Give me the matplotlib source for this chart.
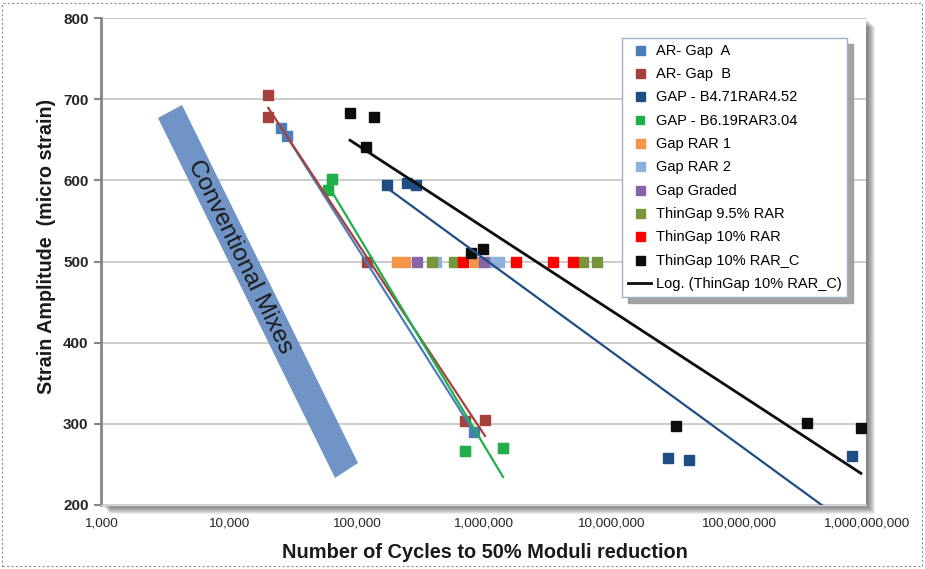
import numpy as np
import matplotlib
matplotlib.use('Agg')
import matplotlib.pyplot as plt
from matplotlib.patches import Polygon, Rectangle
from matplotlib.ticker import FuncFormatter, NullLocator

plt.rcParams['font.family'] = ['Liberation Sans', 'DejaVu Sans']

# cycles to 50% moduli reduction (n) and strain amplitude (e) for each mix
ar_gap_a_n = [25800, 28800, 841000]
ar_gap_a_e = [664, 655, 290]
ar_gap_b_n = [20500, 20500, 122000, 716000, 1028000]
ar_gap_b_e = [705, 678, 500, 303, 305]
gap_b471_n = [175000, 251000, 296000, 28000000, 40900000, 776000000]
gap_b471_e = [594, 597, 594, 258, 255, 260]
gap_b619_n = [64900, 60300, 716000, 1422000]
gap_b619_e = [602, 588, 267, 270]
gap_rar1_n = [210000, 242000, 857000]
gap_rar1_e = [500, 500, 500]
gap_rar2_n = [424000, 1145000, 1325000]
gap_rar2_e = [500, 500, 500]
gap_graded_n = [301000, 1010000]
gap_graded_e = [500, 500]
thin95_n = [394000, 587000, 6030000, 7760000]
thin95_e = [500, 500, 500, 500]
thin10_n = [690000, 1800000, 3510000, 5030000]
thin10_e = [500, 500, 500, 500]
thin10c_n = [89800, 138000, 119700, 798000, 991000, 32400000, 344000000, 912000000]
thin10c_e = [683, 678, 641, 510, 515, 297, 301, 295]

names = ['AR- Gap  A', 'AR- Gap  B', 'GAP - B4.71RAR4.52', 'GAP - B6.19RAR3.04',
         'Gap RAR 1', 'Gap RAR 2', 'Gap Graded', 'ThinGap 9.5% RAR',
         'ThinGap 10% RAR', 'ThinGap 10% RAR_C']
cycles = [ar_gap_a_n, ar_gap_b_n, gap_b471_n, gap_b619_n, gap_rar1_n,
          gap_rar2_n, gap_graded_n, thin95_n, thin10_n, thin10c_n]
strain = [ar_gap_a_e, ar_gap_b_e, gap_b471_e, gap_b619_e, gap_rar1_e,
          gap_rar2_e, gap_graded_e, thin95_e, thin10_e, thin10c_e]
colors = ['#4A7EBB', '#A5403C', '#1F4E85', '#1DB04B', '#F4954A',
          '#8DB0DC', '#8764A8', '#77963C', '#FF0000', '#0D0D0D']
# series that get a logarithmic trend line, with its width
trend = {0: 1.6, 1: 1.6, 2: 1.6, 3: 1.6, 9: 2.0}

W, H = 925, 569
fig = plt.figure(figsize=(W / 100, H / 100), dpi=100)
ax = fig.add_axes([101 / W, 1 - 505 / H, 765 / W, 487 / H])
ax.set_facecolor('white')


def fp(x, y):
    return (x / W, 1 - y / H)


# soft drop shadow behind the plot area
for d in range(2, 10):
    fig.patches.append(Rectangle(fp(101 + d, 505 + d), 765 / W, 487 / H,
                                 transform=fig.transFigure, fc='black',
                                 ec='none', alpha=0.075, zorder=-1))
# dashed frame round the whole picture
fig.patches.append(Rectangle(fp(2, 566), 920 / W, 563 / H, transform=fig.transFigure,
                             fill=False, ec='#8C8C8C', lw=0.8, ls=(0, (2, 2))))

# "Conventional Mixes" band
band = Polygon([fp(158, 118), fp(182, 105), fp(358, 463), fp(335, 478)],
               closed=True, transform=fig.transFigure, fc='#7094C6', ec='none', zorder=1)
ax.add_patch(band)
ax.text(*fp(240, 257), 'Conventional Mixes', transform=fig.transFigure,
        rotation=-64, rotation_mode='anchor', ha='center', va='center',
        fontsize=17.6, color='#1A1A1A', zorder=2)

for i, (n, e) in enumerate(zip(cycles, strain)):
    if i == 3:
        # these squares carry a thin orange rim
        ax.plot(n, e, ls='none', marker='s', ms=7.8, color='#E8A050', zorder=3)
        ax.plot(n, e, ls='none', marker='s', ms=6.7, color=colors[i],
                label=names[i], zorder=3)
        continue
    ax.plot(n, e, ls='none', marker='s', ms=7.2, color=colors[i],
            label=names[i], zorder=3)

trend_handle = None
for i, lw in trend.items():
    n = np.array(cycles[i], dtype=float)
    k = np.polyfit(np.log10(n), strain[i], 1)
    xs = np.array([n.min(), n.max()])
    line, = ax.plot(xs, np.polyval(k, np.log10(xs)), color=colors[i], lw=lw, zorder=4)
    if i == 9:
        trend_handle = line

ax.set_xscale('log')
ax.set_xlim(1e3, 1e9)
ax.set_ylim(200, 800)
ax.set_xticks([1e3, 1e4, 1e5, 1e6, 1e7, 1e8, 1e9])
ax.xaxis.set_major_formatter(FuncFormatter(lambda v, p: f'{int(round(v)):,}'))
ax.xaxis.set_minor_locator(NullLocator())
ax.set_yticks([200, 300, 400, 500, 600, 700, 800])
ax.set_yticklabels(['200', '300', '400', '500', '600', '700', '800'], fontweight='bold')
ax.tick_params(axis='x', length=0, pad=9, labelsize=9.7, labelcolor='#262626')
ax.tick_params(axis='y', length=5, width=1.5, color='#868686', pad=4,
               labelsize=11, labelcolor='#262626')
ax.grid(axis='y', color='#C4C4C4', lw=1.2)
ax.set_axisbelow(True)
for s in ['top', 'right']:
    ax.spines[s].set_visible(False)
ax.spines['bottom'].set_color('#D9D9D9')
ax.spines['bottom'].set_linewidth(1.0)
ax.spines['left'].set_color('#868686')
ax.spines['left'].set_linewidth(2.0)

ax.set_xlabel('Number of Cycles to 50% Moduli reduction', fontsize=14.4,
              fontweight='bold', va='center', color='#1A1A1A')
ax.xaxis.set_label_coords((485 - 101) / 765, (505 - 552) / 487)
ax.set_ylabel('Strain Amplitude  (micro strain)', fontsize=14.2,
              fontweight='bold', va='center', color='#1A1A1A')
ax.yaxis.set_label_coords((46 - 101) / 765, (505 - 246) / 487)

handles, labels = ax.get_legend_handles_labels()
handles.append(trend_handle)
labels.append('Log. (ThinGap 10% RAR_C)')
leg = ax.legend(handles, labels, loc='upper left', bbox_to_anchor=fp(622, 38),
                bbox_transform=fig.transFigure, fontsize=10.5, fancybox=False,
                edgecolor='#9AB0CC', framealpha=1, borderpad=0.4, labelspacing=0.64,
                handlelength=1.6, handletextpad=0.3, borderaxespad=0, markerscale=0.9,
                shadow={'ox': 4, 'oy': -4, 'color': '#9A9A9A', 'alpha': 0.9})
leg.get_frame().set_linewidth(1.0)
leg.set_zorder(6)

fig.savefig('out.png', dpi=100)
